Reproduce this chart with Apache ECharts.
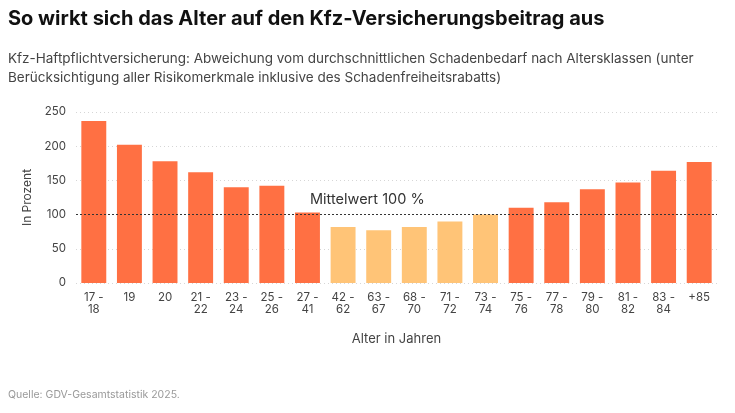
<!DOCTYPE html>
<html>
<head>
<meta charset="utf-8">
<script src="https://cdn.jsdelivr.net/npm/echarts@6/dist/echarts.min.js"></script>
<style>
  html, body { margin: 0; padding: 0; background: #fff; }
  #chart { width: 735px; height: 413px; }
</style>
</head>
<body>
<div id="chart"></div>
<script>
const ageGroups = ["17 -\n18", "19", "20", "21 -\n22", "23 -\n24", "25 -\n26", "27 -\n41",
  "42 -\n62", "63 -\n67", "68 -\n70", "71 -\n72", "73 -\n74", "75 -\n76", "77 -\n78",
  "79 -\n80", "81 -\n82", "83 -\n84", "+85"];
const deviation = [237, 202, 178, 162, 140, 142, 103, 82, 77, 82, 90, 100, 110, 118, 137, 147, 164, 177];
// true = below average (light colour)
const belowAvg = [false, false, false, false, false, false, false, true, true, true, true, true,
  false, false, false, false, false, false];
const meanValue = 100;

const font = "Inter, 'Noto Sans', sans-serif";
const chart = echarts.init(document.getElementById("chart"));

chart.setOption({
  animation: false,
  textStyle: { fontFamily: font },
  title: [
    {
      text: "So wirkt sich das Alter auf den Kfz-Versicherungsbeitrag aus",
      left: 3, top: 4,
      textStyle: { fontSize: 20, fontWeight: "bold", color: "#111", fontFamily: font },
    },
    {
      text: "Kfz-Haftpflichtversicherung: Abweichung vom durchschnittlichen Schadenbedarf nach Altersklassen (unter\nBerücksichtigung aller Risikomerkmale inklusive des Schadenfreiheitsrabatts)",
      left: 3, top: 44,
      textStyle: { fontSize: 13.5, fontWeight: "normal", color: "#444", lineHeight: 19, fontFamily: font },
    },
    {
      text: "Quelle: GDV-Gesamtstatistik 2025.",
      left: 3, top: 384,
      textStyle: { fontSize: 10.5, fontWeight: "normal", color: "#999", fontFamily: font },
    },
  ],
  grid: { left: 76, right: 18, top: 112, bottom: 130 },
  xAxis: {
    type: "category",
    data: ageGroups,
    name: "Alter in Jahren",
    nameLocation: "middle",
    nameGap: 50,
    nameTextStyle: { fontSize: 13, color: "#444" },
    axisLine: { show: false },
    axisTick: { show: false },
    axisLabel: { color: "#444", fontSize: 11.5, lineHeight: 12, margin: 9, interval: 0 },
  },
  yAxis: {
    type: "value",
    min: 0, max: 250, interval: 50,
    name: "In Prozent",
    nameLocation: "middle",
    nameGap: 42,
    nameTextStyle: { fontSize: 12, color: "#444" },
    axisLabel: { color: "#444", fontSize: 11.5, margin: 10 },
    splitLine: { lineStyle: { color: "#d6d6d6", type: [1, 3] } },
  },
  series: [
    {
      type: "bar",
      barCategoryGap: "30%",
      data: deviation.map((v, i) => ({
        value: v,
        itemStyle: { color: belowAvg[i] ? "#ffc477" : "#ff7043" },
      })),
      markLine: {
        symbol: "none",
        silent: true,
        lineStyle: { color: "#333", type: [2, 2], width: 1.2 },
        label: { show: false },
        data: [{ yAxis: meanValue }],
      },
    },
  ],
  graphic: [
    {
      type: "text",
      left: 310, top: 192,
      style: { text: "Mittelwert 100 %", font: "14.5px " + font, fill: "#333" },
    },
  ],
});
</script>
</body>
</html>
